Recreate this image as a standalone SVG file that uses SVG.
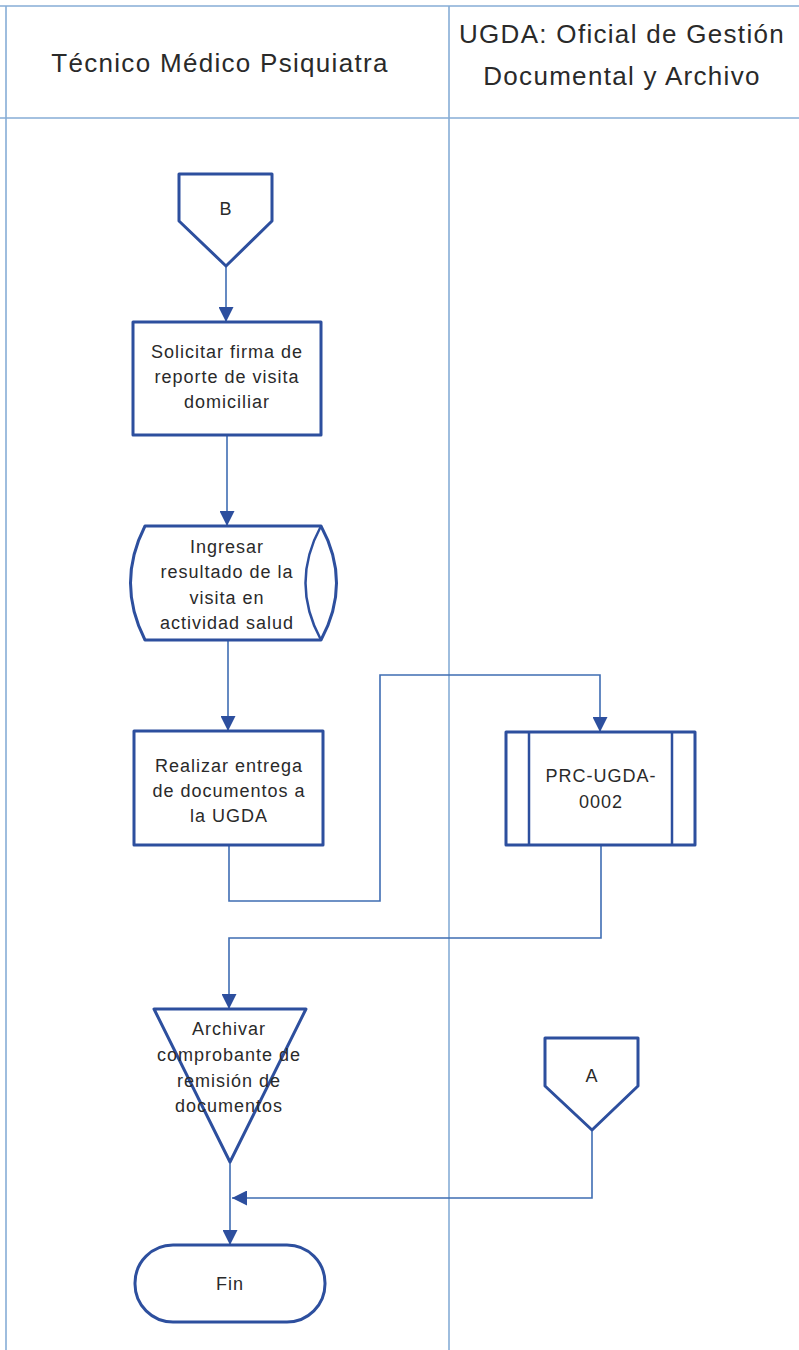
<svg xmlns="http://www.w3.org/2000/svg" width="799" height="1350" viewBox="0 0 799 1350">
  <style>
    .lane { stroke: #86add6; stroke-width: 1.6; fill: none; }
    .shape { fill: #ffffff; stroke: #2d4f9e; stroke-width: 3; stroke-linejoin: round; }
    .thin { fill: none; stroke: #2d4f9e; stroke-width: 2.5; }
    .conn { fill: none; stroke: #3f6db3; stroke-width: 1.6; }
    .hdr { font-family: "Liberation Sans", Arial, sans-serif; font-size: 26px; letter-spacing: 1.3px; fill: #2a2a2a; text-anchor: middle; }
    .lbl { font-family: "Liberation Sans", Arial, sans-serif; font-size: 18px; letter-spacing: 1px; fill: #2a2a2a; text-anchor: middle; }
  </style>
  <defs>
    <marker id="arrow" viewBox="0 0 10 10" refX="10" refY="5" markerWidth="17" markerHeight="15" markerUnits="userSpaceOnUse" orient="auto">
      <path d="M0,0 L10,5 L0,10 Z" fill="#2d4f9e"/>
    </marker>
  </defs>
  <rect width="799" height="1350" fill="#ffffff"/>

  <!-- swimlane frame -->
  <g id="lanes">
    <line class="lane" x1="0" y1="6" x2="799" y2="6"/>
    <line class="lane" x1="0" y1="118" x2="799" y2="118"/>
    <line class="lane" x1="6" y1="6" x2="6" y2="1350"/>
    <line class="lane" x1="449" y1="6" x2="449" y2="1350"/>
    <text class="hdr" x="220" y="72">Técnico Médico Psiquiatra</text>
    <text class="hdr" x="622" y="43">UGDA: Oficial de Gestión</text>
    <text class="hdr" x="622" y="85">Documental y Archivo</text>
  </g>

  <!-- connectors -->
  <g id="connectors">
    <line class="conn" x1="226" y1="266" x2="226" y2="322" marker-end="url(#arrow)"/>
    <line class="conn" x1="227" y1="435" x2="227" y2="526" marker-end="url(#arrow)"/>
    <line class="conn" x1="228" y1="640" x2="228" y2="731" marker-end="url(#arrow)"/>
    <polyline class="conn" points="229,845 229,901 380,901 380,675 600,675 600,732" marker-end="url(#arrow)"/>
    <polyline class="conn" points="601,845 601,938 229,938 229,1009" marker-end="url(#arrow)"/>
    <line class="conn" x1="230" y1="1162" x2="230" y2="1245" marker-end="url(#arrow)"/>
    <polyline class="conn" points="592,1130 592,1198 232,1198" marker-end="url(#arrow)"/>
  </g>

  <!-- off-page connector B -->
  <g id="node-b">
    <path class="shape" d="M179,174 L272,174 L272,221 L226,266 L179,221 Z"/>
    <text class="lbl" x="226" y="215">B</text>
  </g>

  <!-- process: Solicitar firma -->
  <g id="node-solicitar">
    <rect class="shape" x="133" y="322" width="188" height="113"/>
    <text class="lbl" x="227" y="358">Solicitar firma de</text>
    <text class="lbl" x="227" y="383">reporte de visita</text>
    <text class="lbl" x="227" y="408">domiciliar</text>
  </g>

  <!-- stored data: Ingresar resultado -->
  <g id="node-ingresar">
    <path class="shape" d="M145,526 L321,526 Q352,583 321,640 L145,640 Q116,583 145,526 Z"/>
    <path class="thin" d="M321,526 Q290,583 321,640"/>
    <text class="lbl" x="227" y="553">Ingresar</text>
    <text class="lbl" x="227" y="578">resultado de la</text>
    <text class="lbl" x="227" y="604">visita en</text>
    <text class="lbl" x="227" y="629">actividad salud</text>
  </g>

  <!-- process: Realizar entrega -->
  <g id="node-realizar">
    <rect class="shape" x="134" y="731" width="189" height="114"/>
    <text class="lbl" x="229" y="772">Realizar entrega</text>
    <text class="lbl" x="229" y="797">de documentos a</text>
    <text class="lbl" x="229" y="822">la UGDA</text>
  </g>

  <!-- predefined process: PRC-UGDA-0002 -->
  <g id="node-prc">
    <rect class="shape" x="506" y="732" width="189" height="113"/>
    <line class="thin" x1="529" y1="732" x2="529" y2="845"/>
    <line class="thin" x1="672" y1="732" x2="672" y2="845"/>
    <text class="lbl" x="601" y="782">PRC-UGDA-</text>
    <text class="lbl" x="601" y="808">0002</text>
  </g>

  <!-- archive: Archivar comprobante -->
  <g id="node-archivar">
    <path class="shape" d="M154,1009 L306,1009 L230,1162 Z"/>
    <text class="lbl" x="229" y="1035">Archivar</text>
    <text class="lbl" x="229" y="1061">comprobante de</text>
    <text class="lbl" x="229" y="1087">remisión de</text>
    <text class="lbl" x="229" y="1112">documentos</text>
  </g>

  <!-- off-page connector A -->
  <g id="node-a">
    <path class="shape" d="M545,1038 L638,1038 L638,1086 L592,1130 L545,1086 Z"/>
    <text class="lbl" x="592" y="1082">A</text>
  </g>

  <!-- terminator: Fin -->
  <g id="node-fin">
    <rect class="shape" x="135" y="1245" width="190" height="77" rx="38" ry="38"/>
    <text class="lbl" x="230" y="1290">Fin</text>
  </g>
</svg>
